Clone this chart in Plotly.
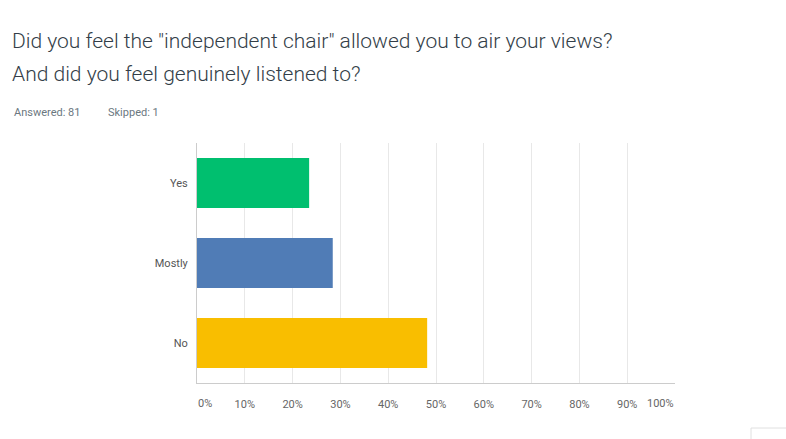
import plotly.graph_objects as go

categories = ["Yes", "Mostly", "No"]
percents = [23.46, 28.40, 48.15]
colors = ["#00bf6f", "#507cb6", "#f9be00"]
tick_vals = [0, 10, 20, 30, 40, 50, 60, 70, 80, 90, 100]
tick_text = ["0%", "10%", "20%", "30%", "40%", "50%", "60%", "70%", "80%", "90%", "100%"]
title_lines = ['Did you feel the "independent chair" allowed you to air your views?',
               'And did you feel genuinely listened to?']
answered_text = "Answered: 81"
skipped_text = "Skipped: 1"

W, H = 786, 439
L, R, T, B = 197, 111, 143, 56
PW, PH = W - L - R, H - T - B
FONT = "Roboto"


def px_x(x):
    return (x - L) / PW


def px_y(y):
    return 1 - (y - T) / PH


fig = go.Figure(go.Bar(
    y=categories, x=percents, orientation="h",
    marker=dict(color=colors, line=dict(width=0)),
    width=0.625, hoverinfo="skip",
))

inner_text = ["" if i in (0, len(tick_text) - 1) else t for i, t in enumerate(tick_text)]

fig.update_layout(
    width=W, height=H,
    margin=dict(l=L, r=R, t=T, b=B),
    paper_bgcolor="white", plot_bgcolor="white",
    showlegend=False,
    font=dict(family=FONT, color="#666666", size=11),
    xaxis=dict(range=[0, 100], tickvals=tick_vals, ticktext=inner_text,
               showgrid=True, gridcolor="#e8e8e8", gridwidth=1,
               zeroline=False, showline=True, linecolor="#cccccc", linewidth=1,
               ticks="outside", ticklen=11, tickcolor="rgba(0,0,0,0)",
               tickfont=dict(family=FONT, size=11, color="#666666"), fixedrange=True),
    yaxis=dict(categoryorder="array", categoryarray=categories[::-1],
               showgrid=False, zeroline=False, showline=True, linecolor="#cccccc", linewidth=1,
               ticks="outside", ticklen=6, tickcolor="rgba(0,0,0,0)",
               tickfont=dict(family=FONT, size=11, color="#555555"), fixedrange=True),
)

for i in (0, len(tick_text) - 1):
    shift = 8 if i == 0 else -15
    fig.add_annotation(x=tick_vals[i], y=px_y(395), xref="x", yref="paper", text=tick_text[i],
                       showarrow=False, yanchor="top", xshift=shift,
                       font=dict(family=FONT, size=11, color="#666666"))

fig.add_annotation(x=px_x(10), y=px_y(27), xref="paper", yref="paper", xanchor="left", yanchor="top",
                   text=title_lines[0], showarrow=False,
                   font=dict(family=FONT, size=21, color="#333e48", weight=300))
fig.add_annotation(x=px_x(10), y=px_y(60), xref="paper", yref="paper", xanchor="left", yanchor="top",
                   text=title_lines[1], showarrow=False,
                   font=dict(family=FONT, size=21, color="#333e48", weight=300))
fig.add_annotation(x=px_x(12), y=px_y(104), xref="paper", yref="paper", xanchor="left", yanchor="top",
                   text=answered_text, showarrow=False,
                   font=dict(family=FONT, size=11, color="#6b787f"))
fig.add_annotation(x=px_x(106), y=px_y(104), xref="paper", yref="paper", xanchor="left", yanchor="top",
                   text=skipped_text, showarrow=False,
                   font=dict(family=FONT, size=11, color="#6b787f"))

fig.add_shape(type="rect", xref="paper", yref="paper",
              x0=px_x(751), x1=px_x(790), y0=px_y(444), y1=px_y(428),
              line=dict(color="#e0e0e0", width=1), fillcolor="white")

fig.write_html("out.html")
